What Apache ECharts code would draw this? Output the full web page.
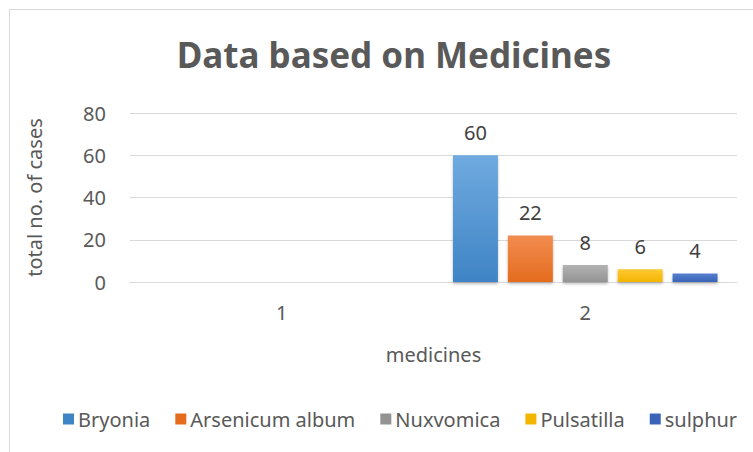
<!DOCTYPE html>
<html>
<head>
<meta charset="utf-8">
<script src="https://cdn.jsdelivr.net/npm/echarts@6/dist/echarts.min.js"></script>
<style>
  html, body { margin: 0; padding: 0; background: #fff; }
  #frame { position: absolute; left: 9px; top: 9px; width: 760px; height: 460px; border: 1px solid #d9d9d9; box-sizing: border-box; }
  #chart { position: absolute; left: 0; top: 0; width: 753px; height: 452px; }
</style>
</head>
<body>
<div id="frame"></div>
<div id="chart"></div>
<script>
var categories = ['1', '2'];
var seriesNames = ['Bryonia', 'Arsenicum album', 'Nuxvomica', 'Pulsatilla', 'sulphur'];
var bryonia = [null, 60];
var arsenicum = [null, 22];
var nuxvomica = [null, 8];
var pulsatilla = [null, 6];
var sulphur = [null, 4];
var yTicks = [0, 20, 40, 60, 80];

// top / bottom gradient colours (Excel office palette)
var palette = [
  ['#70aae0', '#3f84c5'],
  ['#f28c50', '#e46c1e'],
  ['#b3b3b3', '#939393'],
  ['#ffc933', '#f2b600'],
  ['#5580cc', '#3a64b8']
];

var font = '"Noto Sans", "Open Sans", sans-serif';
var text = '#595959';
var rule = '#d9d9d9';

var chart = echarts.init(document.getElementById('chart'), null, { renderer: 'svg' });

var allData = [bryonia, arsenicum, nuxvomica, pulsatilla, sulphur];
var series = seriesNames.map(function(name, i) {
  return {
    name: name,
    type: 'bar',
    data: allData[i],
    barWidth: 45,
    barGap: '22%',
    itemStyle: {
      color: new echarts.graphic.LinearGradient(0, 0, 0, 1, [
        { offset: 0, color: palette[i][0] },
        { offset: 1, color: palette[i][1] }
      ]),
      shadowColor: 'rgba(0,0,0,0.25)',
      shadowBlur: 3,
      shadowOffsetY: 2
    },
    label: {
      show: true,
      position: 'top',
      distance: 13,
      fontFamily: font,
      fontSize: 20,
      color: '#404040'
    }
  };
});

chart.setOption({
  animation: false,
  title: {
    text: 'Data based on Medicines',
    left: 389,
    textAlign: 'center',
    top: 32,
    textStyle: { fontFamily: font, fontSize: 35, fontWeight: 'bold', color: text }
  },
  legend: {
    data: seriesNames.map(function(n, i) {
      return { name: n, itemStyle: { color: palette[i][1] } };
    }),
    bottom: 18,
    left: 58,
    icon: 'rect',
    itemWidth: 11,
    itemHeight: 11,
    itemGap: 25,
    textStyle: { fontFamily: font, fontSize: 20, color: text, padding: [0, 0, 0, -1] }
  },
  grid: { left: 130, right: 16, top: 113, bottom: 170 },
  xAxis: {
    type: 'category',
    data: categories,
    name: 'medicines',
    nameLocation: 'middle',
    nameGap: 62,
    nameTextStyle: { fontFamily: font, fontSize: 20, color: text },
    axisLabel: { fontFamily: font, fontSize: 20, color: text, margin: 20 },
    axisLine: { lineStyle: { color: rule } },
    axisTick: { show: false }
  },
  yAxis: {
    type: 'value',
    min: yTicks[0],
    max: yTicks[yTicks.length - 1],
    interval: 20,
    name: 'total no. of cases',
    nameLocation: 'middle',
    nameRotate: 90,
    nameGap: 86,
    nameTextStyle: { fontFamily: font, fontSize: 20, color: text },
    axisLabel: { fontFamily: font, fontSize: 20, color: text, margin: 24 },
    axisLine: { show: false },
    axisTick: { show: false },
    splitLine: { lineStyle: { color: rule, width: 1 } }
  },
  series: series
});
</script>
</body>
</html>
